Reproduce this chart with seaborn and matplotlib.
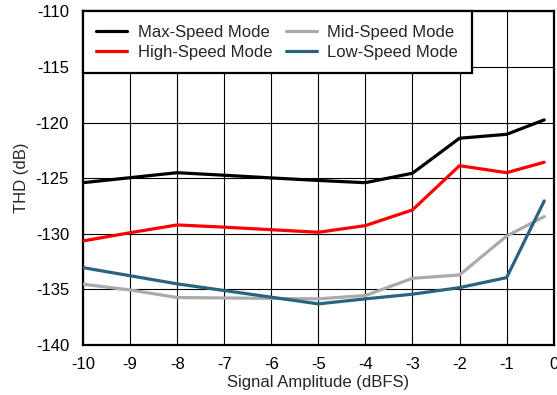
import numpy as np
import pandas as pd
import matplotlib
matplotlib.use("Agg")
import matplotlib.pyplot as plt
import seaborn as sns

x_vals = [-10, -9, -8, -7, -6, -5, -4, -3, -2, -1, -0.2]
max_speed = [-125.4, -124.95, -124.5, -124.73, -124.97, -125.2, -125.4, -124.55, -121.4, -121.05, -119.75]
high_speed = [-130.64, -129.9, -129.2, -129.4, -129.63, -129.86, -129.26, -127.85, -123.87, -124.5, -123.56]
mid_speed = [-134.53, -135.05, -135.73, -135.77, -135.81, -135.85, -135.55, -134.0, -133.7, -130.2, -128.45]
low_speed = [-133.04, -133.77, -134.5, -135.1, -135.7, -136.3, -135.85, -135.43, -134.84, -133.94, -127.04]

labels = ["Max-Speed Mode", "High-Speed Mode", "Mid-Speed Mode", "Low-Speed Mode"]
colors = ["#000000", "#ff0000", "#aaaaaa", "#2b6280"]

rows = []
for lab, ys in zip(labels, [max_speed, high_speed, mid_speed, low_speed]):
    for xv, yv in zip(x_vals, ys):
        rows.append({"x": xv, "y": yv, "mode": lab})
df = pd.DataFrame(rows)

sns.set_style("white")
plt.rcParams['font.family'] = ['Liberation Sans', 'DejaVu Sans']
plt.rcParams['axes.unicode_minus'] = False

fs = 12
fig = plt.figure(figsize=(5.57, 3.95), dpi=100)
ax = fig.add_axes([0.149, 0.1266, 0.845, 0.8443])

sns.lineplot(data=df, x="x", y="y", hue="mode", hue_order=labels,
             palette=dict(zip(labels, colors)), linewidth=2.3, ax=ax,
             estimator=None, sort=False, zorder=3)

ax.set_xlim(-10, 0)
ax.set_ylim(-140, -110)
ax.set_xticks(np.arange(-10, 1, 1))
ax.set_yticks(np.arange(-140, -109, 5))
ax.grid(True, color="black", linewidth=0.8, zorder=0)
ax.set_axisbelow(True)
for s in ax.spines.values():
    s.set_color("black")
    s.set_linewidth(1.6)
ax.tick_params(axis="both", labelsize=fs, length=0, colors="black")
ax.tick_params(axis="x", pad=9)
ax.tick_params(axis="y", pad=10)
ax.set_xlabel("Signal Amplitude (dBFS)", fontsize=fs, labelpad=2)
ax.set_ylabel("THD (dB)", fontsize=fs, labelpad=5)

leg = ax.legend(loc="upper left", ncol=2, fontsize=fs, frameon=True,
                fancybox=False, borderaxespad=0, handlelength=1.85,
                columnspacing=0.8, handletextpad=0.65, labelspacing=0.3,
                borderpad=0.8)
leg.get_frame().set_edgecolor("black")
leg.get_frame().set_linewidth(1.6)
leg.get_frame().set_alpha(1)
for h in leg.get_lines():
    h.set_linewidth(2.3)

fig.savefig("out.png", dpi=100)
